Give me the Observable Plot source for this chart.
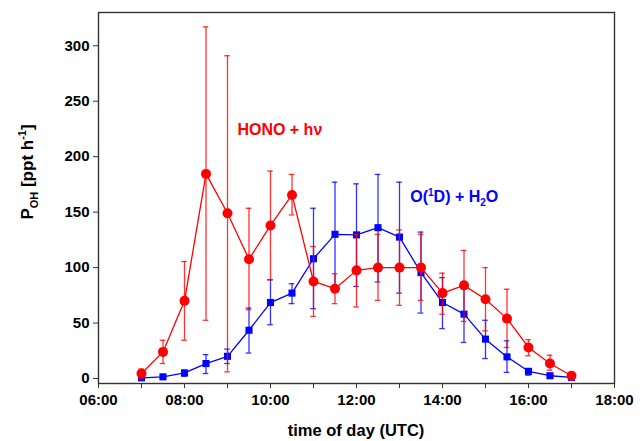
<!DOCTYPE html>
<html>
<head>
<meta charset="utf-8">
<script src="https://cdn.jsdelivr.net/npm/d3@7"></script>
<script src="https://cdn.jsdelivr.net/npm/@observablehq/plot@0.6"></script>
<style>
  html, body { margin: 0; padding: 0; background: #fff; }
</style>
</head>
<body>
<div id="chart"></div>
<script>
// time of day in hours (UTC)
const times = [7, 7.5, 8, 8.5, 9, 9.5, 10, 10.5, 11, 11.5, 12, 12.5, 13, 13.5, 14, 14.5, 15, 15.5, 16, 16.5, 17];

// HONO + hv
const hono   = [4.5, 24, 70, 184.5, 149, 107.5, 138, 165.5, 87.5, 81, 97.5, 100, 100, 100, 77, 84, 71.5, 54, 28, 13.5, 2.5];
const honoLo = [0.5, 13.5, 34.5, 52.5, 6, 62, 89, 147.5, 56, 67.5, 64.5, 70.5, 66, 70.5, 58, 51.5, 43, 28, 20.5, 7.5, 0];
const honoHi = [8.5, 34.5, 105.5, 317, 291, 153.5, 187, 184, 119, 94.5, 130, 130, 134, 130, 95, 115.5, 100, 80.5, 35, 21, 4.5];

// O(1D) + H2O
const o1d   = [0.6, 1.5, 5, 13.5, 20, 43.5, 68.5, 77, 108, 130, 129.5, 136, 127.5, 95.5, 68.5, 58, 35.5, 19.5, 6.5, 2.5, 1];
const o1dLo = [0, 0, 2, 4.5, 13.5, 23, 48.5, 67.5, 63, 83, 83, 87, 77, 59, 45, 32.5, 18, 5.5, 3, 0.5, 0];
const o1dHi = [1.5, 3, 7.5, 21.5, 26.5, 63.5, 89, 85.5, 153.5, 177, 175.5, 184, 177, 132, 91, 83, 52.5, 34, 8.5, 4.5, 2];

const xTicks = [6, 7, 8, 9, 10, 11, 12, 13, 14, 15, 16, 17, 18];
const yTicks = [0, 50, 100, 150, 200, 250, 300];

const honoData = times.map((t, i) => ({t, v: hono[i], lo: honoLo[i], hi: honoHi[i]}));
const o1dData  = times.map((t, i) => ({t, v: o1d[i], lo: o1dLo[i], hi: o1dHi[i]}));

const RED = "#ff0000";
const BLUE = "#0000ff";
const capHalf = 0.065;
const font = "Arial, 'Liberation Sans', sans-serif";

function errorMarks(data, color) {
  return [
    Plot.ruleX(data, {x: "t", y1: "lo", y2: "hi", stroke: color, strokeWidth: 1.3, strokeOpacity: 0.8}),
    Plot.ruleY(data, {y: "hi", x1: d => d.t - capHalf, x2: d => d.t + capHalf, stroke: color, strokeWidth: 1.3, strokeOpacity: 0.8}),
    Plot.ruleY(data, {y: "lo", x1: d => d.t - capHalf, x2: d => d.t + capHalf, stroke: color, strokeWidth: 1.3, strokeOpacity: 0.8})
  ];
}

const fmt = d => (d % 2 === 0 ? String(d).padStart(2, "0") + ":00" : "");

const chart = Plot.plot({
  width: 640,
  height: 441,
  marginLeft: 98,
  marginRight: 26,
  marginTop: 12,
  marginBottom: 58,
  style: {fontFamily: font, fontSize: "15px", fontWeight: "bold", color: "#000", background: "#fff"},
  x: {domain: [6, 18]},
  y: {domain: [-4.5, 330]},
  marks: [
    Plot.axisX({ticks: xTicks, tickFormat: fmt, tickSize: 5, tickPadding: 6, label: null, stroke: "#333", fill: "#000"}),
    Plot.axisY({ticks: yTicks, tickSize: 5, tickPadding: 4, label: null, stroke: "#333", fill: "#000"}),
    Plot.frame({stroke: "#333", strokeWidth: 1.4}),
    ...errorMarks(o1dData, BLUE),
    Plot.line(o1dData, {x: "t", y: "v", stroke: BLUE, strokeWidth: 1.3}),
    Plot.dot(o1dData, {x: "t", y: "v", symbol: "square", r: 4, fill: BLUE, stroke: "none"}),
    ...errorMarks(honoData, RED),
    Plot.line(honoData, {x: "t", y: "v", stroke: RED, strokeWidth: 1.3}),
    Plot.dot(honoData, {x: "t", y: "v", r: 5, fill: RED, stroke: "none"}),
    Plot.text([{x: 9.23, y: 224.5, s: "HONO + hν"}], {x: "x", y: "y", text: "s", fill: RED, fontSize: 16, fontWeight: "bold", textAnchor: "start", lineAnchor: "middle"}),
    Plot.text([{x: 13.25, y: 164, s: "O(1D) + H2O"}], {x: "x", y: "y", text: "s", fill: BLUE, fontSize: 16, fontWeight: "bold", textAnchor: "start", lineAnchor: "middle", className: "o1d-label"})
  ]
});

document.getElementById("chart").appendChild(chart);

const svg = d3.select(chart);

// rebuild the O(1D) + H2O label with real superscript / subscript
svg.selectAll("text").each(function() {
  const t = d3.select(this);
  if (t.text() === "O(1D) + H2O") {
    t.text(null);
    t.append("tspan").text("O(");
    t.append("tspan").attr("dy", "-6").style("font-size", "10px").text("1");
    t.append("tspan").attr("dy", "6").text("D) + H");
    t.append("tspan").attr("dy", "4").style("font-size", "10px").text("2");
    t.append("tspan").attr("dy", "-4").text("O");
  }
});

// x-axis title
svg.append("text")
  .attr("x", 356).attr("y", 436)
  .attr("text-anchor", "middle")
  .style("font-family", font).style("font-size", "16.5px").style("font-weight", "bold")
  .attr("fill", "#000")
  .text("time of day (UTC)");

// y-axis title with subscript / superscript
const yt = svg.append("text")
  .attr("transform", "translate(27,172) rotate(-90)")
  .attr("text-anchor", "middle").attr("dy", "0.35em")
  .style("font-family", font).style("font-size", "17px").style("font-weight", "bold")
  .attr("fill", "#000");
yt.append("tspan").text("P");
yt.append("tspan").attr("dy", "5").style("font-size", "11px").text("OH");
yt.append("tspan").attr("dy", "-5").text(" [ppt h");
yt.append("tspan").attr("dy", "-7").style("font-size", "11px").text("-1");
yt.append("tspan").attr("dy", "7").text("]");
</script>
</body>
</html>
